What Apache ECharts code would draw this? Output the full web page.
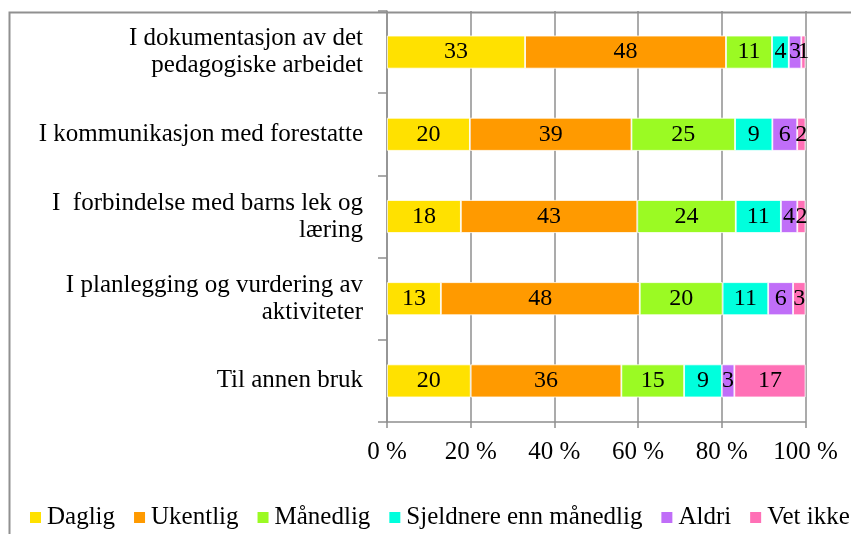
<!DOCTYPE html>
<html>
<head>
<meta charset="utf-8">
<script src="https://cdn.jsdelivr.net/npm/echarts@6/dist/echarts.min.js"></script>
<style>
html,body{margin:0;padding:0;background:#fff;}
#chart{width:851px;height:534px;}
</style>
</head>
<body>
<div id="chart"></div>
<script>
const categories = [
  "I dokumentasjon av det\npedagogiske arbeidet",
  "I kommunikasjon med forestatte",
  "I  forbindelse med barns lek og\nlæring",
  "I planlegging og vurdering av\naktiviteter",
  "Til annen bruk"
];
const seriesNames = ["Daglig", "Ukentlig", "Månedlig", "Sjeldnere enn månedlig", "Aldri", "Vet ikke"];
const daglig    = [33, 20, 18, 13, 20];
const ukentlig  = [48, 39, 43, 48, 36];
const maanedlig = [11, 25, 24, 20, 15];
const sjeldnere = [4, 9, 11, 11, 9];
const aldri     = [3, 6, 4, 6, 3];
const vetIkke   = [1, 2, 2, 3, 17];
const xTicks = [0, 20, 40, 60, 80, 100];

const colors = ["#FFE100", "#FF9A00", "#9BFA23", "#00FFDD", "#C06EF8", "#FF70B6"];
const raw = [daglig, ukentlig, maanedlig, sjeldnere, aldri, vetIkke];
const totals = categories.map((_, i) => raw.reduce((s, arr) => s + arr[i], 0));
const FONT = "Liberation Serif";

const series = raw.map((arr, k) => ({
  name: seriesNames[k],
  type: "bar",
  stack: "total",
  barWidth: 33,
  itemStyle: { color: colors[k], borderColor: "#ffffff", borderWidth: 0.8 },
  label: {
    show: true,
    position: "inside",
    fontFamily: FONT,
    fontSize: 24,
    color: "#000",
    formatter: (p) => String(arr[p.dataIndex])
  },
  emphasis: { disabled: true },
  data: arr.map((v, i) => v / totals[i] * 100)
}));

const chart = echarts.init(document.getElementById("chart"), null, { renderer: "canvas" });
chart.setOption({
  animation: false,
  backgroundColor: "#fff",
  color: colors,
  graphic: [{
    type: "rect",
    left: 7, top: 10,
    shape: { x: 0, y: 0, width: 900, height: 600 },
    style: { fill: "none", stroke: "#909090", lineWidth: 2 },
    z: -1
  }],
  grid: { left: 387, right: 45.5, top: 11, bottom: 112, containLabel: false },
  legend: {
    show: true,
    left: 28,
    top: 505,
    width: 823,
    padding: 0,
    itemWidth: 13,
    itemHeight: 13,
    itemGap: 17,
    icon: "rect",
    textStyle: { fontFamily: FONT, fontSize: 25, color: "#000", padding: [0, 0, 0, 0] },
    data: seriesNames
  },
  xAxis: {
    type: "value",
    min: xTicks[0],
    max: xTicks[xTicks.length - 1],
    interval: 20,
    axisLine: { show: true, lineStyle: { color: "#8f8f8f", width: 1.5 } },
    axisTick: { show: true, length: 6, lineStyle: { color: "#8f8f8f", width: 1.5 } },
    splitLine: { show: true, lineStyle: { color: "#8f8f8f", width: 1.5 } },
    axisLabel: {
      fontFamily: FONT, fontSize: 25, color: "#000", margin: 18,
      formatter: (v) => v + " %"
    }
  },
  yAxis: {
    type: "category",
    inverse: true,
    data: categories,
    axisLine: { show: true, lineStyle: { color: "#8f8f8f", width: 1.5 } },
    axisTick: { show: true, length: 9, lineStyle: { color: "#8f8f8f", width: 1.5 } },
    splitLine: { show: false },
    axisLabel: {
      fontFamily: FONT, fontSize: 25, color: "#000", margin: 24,
      lineHeight: 27, align: "right"
    }
  },
  series: series
});
</script>
</body>
</html>
